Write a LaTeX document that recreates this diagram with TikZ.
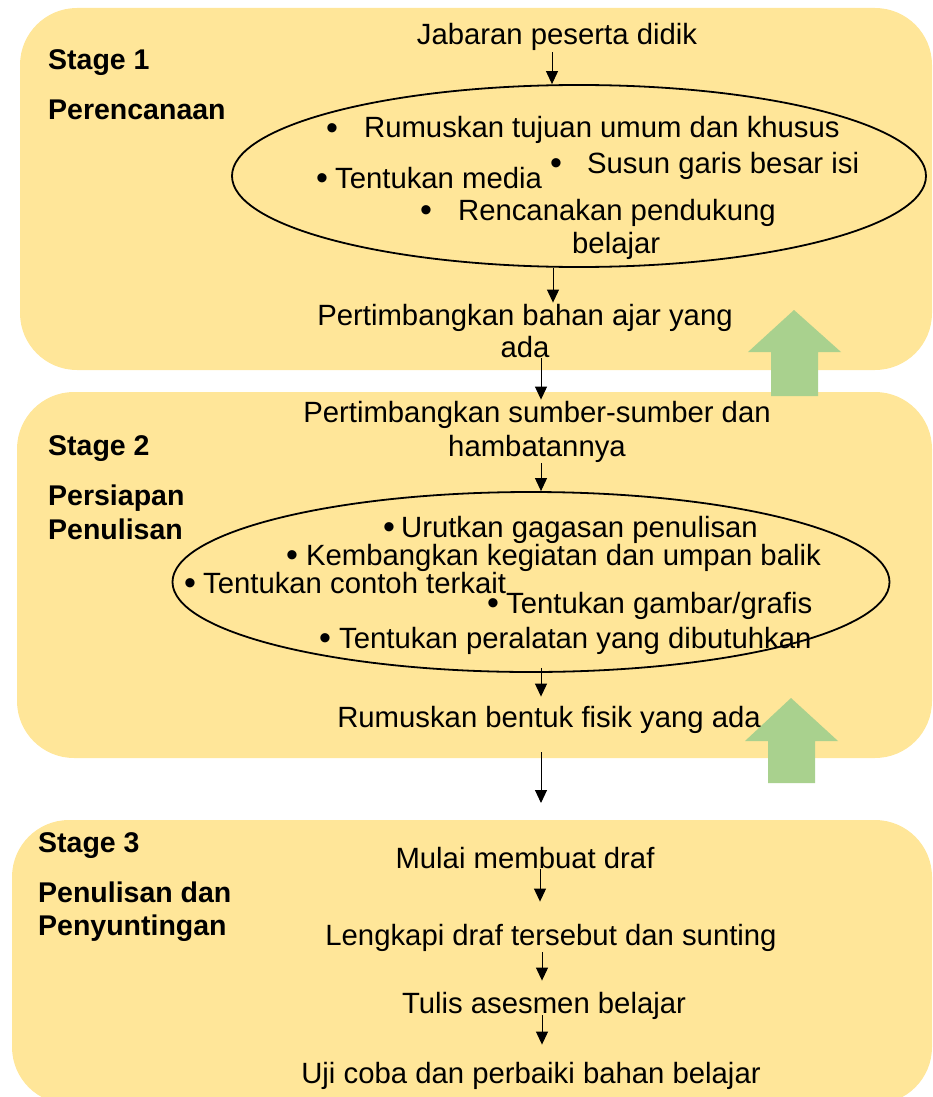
\documentclass[tikz,border=0pt]{standalone}
\usepackage{fontspec}
\setmainfont{Liberation Sans}
\usetikzlibrary{arrows.meta,shapes.geometric,positioning}
\definecolor{stagefill}{HTML}{FFE699}
\definecolor{upgreen}{HTML}{A9D18E}
\newcommand{\itm}[2]{{\fontsize{34}{34}\selectfont\raisebox{-1.5pt}{\textbullet}}\hspace{#1}#2}

\begin{document}
\begin{tikzpicture}[x=1pt,y=-1pt,
  every node/.style={font=\fontsize{29.3}{33}\selectfont,inner sep=1pt},
  stagebox/.style={fill=stagefill,rounded corners=57pt},
  stagelabel/.style={font=\fontsize{28.5}{33}\selectfont\bfseries,anchor=base west},
  item/.style={anchor=base west},
  line/.style={anchor=base},
  ring/.style={draw,ellipse,line width=1.8pt,inner sep=0pt},
  flow/.style={-{Triangle[length=13pt,width=12pt]},line width=1pt},
  uparrow/.style={fill=upgreen}]
\useasboundingbox (0,0) rectangle (932,1097);
\clip (0,0) rectangle (932,1097);

% stage panels
\fill[stagebox] (20,8) rectangle (932,370);
\fill[stagebox] (17,392) rectangle (932,758);
\fill[stagebox] (12,820) rectangle (932,1104);

% feedback arrows
\fill[uparrow] (771,396) -- (771,352) -- (748,352) -- (794,310) -- (841,352) -- (818,352) -- (818,396) -- cycle;
\fill[uparrow] (768,783) -- (768,741) -- (745,741) -- (791,698) -- (838,741) -- (815,741) -- (815,783) -- cycle;

% stage 1
\node[stagelabel] (s1) at (47,70) {Stage 1};
\node[stagelabel] (s1name) at (47,120) {Perencanaan};
\node[line] (jab) at (557,45) {Jabaran peserta didik};
\node[ring,minimum width=694pt,minimum height=182pt] (ell1) at (579,176) {};
\node[item] (i11) at (325,138) {\itm{26pt}{Rumuskan tujuan umum dan khusus}};
\node[item] (i12) at (549,173) {\itm{25pt}{Susun garis besar isi}};
\node[item] (i13) at (315,188) {\itm{7pt}{Tentukan media}};
\node[item] (i14) at (419,220) {\itm{26pt}{Rencanakan pendukung}};
\node[item] (i14b) at (571,253) {belajar};
\node[line] (pba) at (525,325) {Pertimbangkan bahan ajar yang};
\node[line] (pba2) at (525,357) {ada};

% stage 2
\node[stagelabel] (s2) at (47,455) {Stage 2};
\node[stagelabel] (s2name) at (47,505) {Persiapan};
\node[stagelabel] (s2name2) at (47,539) {Penulisan};
\node[line] (psd) at (537,422) {Pertimbangkan sumber-sumber dan};
\node[line] (psd2) at (537,456) {hambatannya};
\node[ring,minimum width=717pt,minimum height=180pt] (ell2) at (531,582) {};
\node[item] (i21) at (382,537) {\itm{6pt}{Urutkan gagasan penulisan}};
\node[item] (i22) at (285,565) {\itm{8pt}{Kembangkan kegiatan dan umpan balik}};
\node[item] (i23) at (183,593) {\itm{7pt}{Tentukan contoh terkait}};
\node[item] (i24) at (486,613) {\itm{7pt}{Tentukan gambar/grafis}};
\node[item] (i25) at (318,648) {\itm{8pt}{Tentukan peralatan yang dibutuhkan}};
\node[line] (rbf) at (549,727) {Rumuskan bentuk fisik yang ada};
\coordinate (gap) at (541,803);

% stage 3
\node[stagelabel] (s3) at (37,852) {Stage 3};
\node[stagelabel] (s3name) at (37,902) {Penulisan dan};
\node[stagelabel] (s3name2) at (37,935) {Penyuntingan};
\node[line] (mbd) at (525,868) {Mulai membuat draf};
\node[line] (ldt) at (551,945) {Lengkapi draf tersebut dan sunting};
\node[line] (tab) at (544,1013) {Tulis asesmen belajar};
\node[line] (ucb) at (531,1083) {Uji coba dan perbaiki bahan belajar};

% flow
\draw[flow] ([xshift=-5pt]jab.south) -- ([xshift=-5pt]jab.south |- ell1.north);
\draw[flow] ([xshift=-26pt]ell1.south) -- ([xshift=-26pt]ell1.south |- pba.north);
\draw[flow] ([xshift=16pt]pba2.south) -- ([xshift=16pt]pba2.south |- psd.north);
\draw[flow] ([xshift=4pt]psd2.south) -- ([xshift=4pt]psd2.south |- ell2.north);
\draw[flow,shorten >=8pt] ([xshift=10pt,yshift=5pt]ell2.south) -- ([xshift=10pt]ell2.south |- rbf.north);
\draw[flow,shorten <=18pt] (rbf.south -| gap) -- (gap);
\draw[flow,shorten >=21pt] ([xshift=15pt]mbd.south) -- ([xshift=15pt]mbd.south |- ldt.north);
\draw[flow,shorten >=10pt] ([xshift=-9pt]ldt.south) -- ([xshift=-9pt]ldt.south |- tab.north);
\draw[flow,shorten <=-5pt,shorten >=16pt] ([xshift=-2pt]tab.south) -- ([xshift=-2pt]tab.south |- ucb.north);
\end{tikzpicture}
\end{document}
